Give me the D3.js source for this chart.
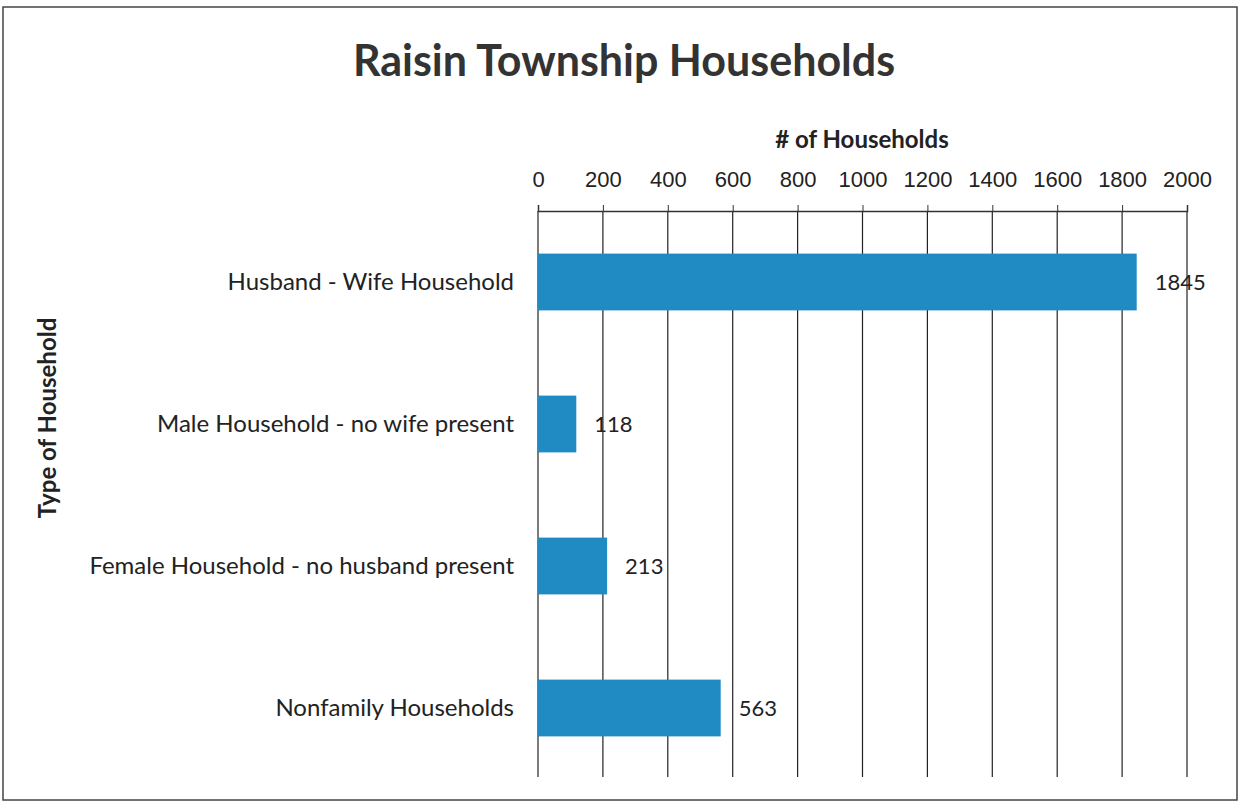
<!DOCTYPE html>
<meta charset="utf-8">
<head>
  <title>Raisin Township Households</title>
</head>
<style>
  body { margin: 0; background: #fff; }
  svg { font-family: Lato, "Open Sans", sans-serif; }
  .frame { fill: none; stroke: #444; stroke-width: 1.5px; }
  .title { font-size: 43px; font-weight: bold; fill: #333; text-anchor: middle; }
  .axisTitle { font-size: 24px; font-weight: bold; fill: #222; text-anchor: middle; }
  .xaxis text { font-size: 22px; fill: #222; }
  .xaxis path, .xaxis line { stroke: #333; }
  .grid line { stroke: #222; stroke-width: 1.2px; }
  .cat { font-size: 24px; fill: #222; text-anchor: end; }
  .val { font-size: 22px; fill: #222; }
  .bar { fill: #1f8bc2; }
</style>
<body>
<script src="https://cdn.jsdelivr.net/npm/d3@7"></script>
<script>
// data
var categories = ["Husband - Wife Household", "Male Household - no wife present",
                  "Female Household - no husband present", "Nonfamily Households"];
var values = [1845, 118, 213, 563];
var xTicks = [0, 200, 400, 600, 800, 1000, 1200, 1400, 1600, 1800, 2000];

var W = 1241, H = 805;
var x0 = 538, x1 = 1187, axisY = 211, gridBottom = 777;

var svg = d3.select("body").append("svg")
    .attr("width", W)
    .attr("height", H);

// page frame
svg.append("rect").attr("class", "frame")
    .attr("x", 3).attr("y", 7).attr("width", 1234).attr("height", 793);

var xScale = d3.scaleLinear().domain([0, 2000]).range([x0, x1]);
var yScale = d3.scaleBand().domain(categories).range([axisY, 779]).paddingInner(0.6).paddingOuter(0.3);

// vertical grid lines
svg.append("g").attr("class", "grid")
  .selectAll("line")
  .data(xTicks)
  .enter().append("line")
    .attr("x1", function(d) { return xScale(d); })
    .attr("x2", function(d) { return xScale(d); })
    .attr("y1", axisY)
    .attr("y2", gridBottom);

// top axis
var xAxis = d3.axisTop(xScale).tickValues(xTicks).tickSize(6).tickPadding(18).tickFormat(d3.format("d"));
svg.append("g")
    .attr("class", "xaxis")
    .attr("transform", "translate(0," + axisY + ")")
    .call(xAxis)
    .call(function(g) { g.select(".domain").attr("stroke-width", 1.5); });

// bars
svg.selectAll(".bar")
    .data(values)
  .enter().append("rect")
    .attr("class", "bar")
    .attr("x", xScale(0))
    .attr("y", function(d, i) { return yScale(categories[i]); })
    .attr("width", function(d) { return xScale(d) - xScale(0); })
    .attr("height", yScale.bandwidth());

// value labels
svg.selectAll(".val")
    .data(values)
  .enter().append("text")
    .attr("class", "val")
    .attr("x", function(d) { return xScale(d) + 18; })
    .attr("y", function(d, i) { return yScale(categories[i]) + yScale.bandwidth() / 2; })
    .attr("dy", "0.35em")
    .text(function(d) { return d; });

// category labels
svg.selectAll(".cat")
    .data(categories)
  .enter().append("text")
    .attr("class", "cat")
    .attr("x", 514)
    .attr("y", function(d) { return yScale(d) + yScale.bandwidth() / 2; })
    .attr("dy", "0.35em")
    .text(function(d) { return d; });

// titles
svg.append("text").attr("class", "title")
    .attr("x", 624).attr("y", 76)
    .text("Raisin Township Households");

svg.append("text").attr("class", "axisTitle")
    .attr("x", 862).attr("y", 148)
    .text("# of Households");

svg.append("text").attr("class", "axisTitle")
    .attr("transform", "translate(56,418) rotate(-90)")
    .text("Type of Household");
</script>
</body>
